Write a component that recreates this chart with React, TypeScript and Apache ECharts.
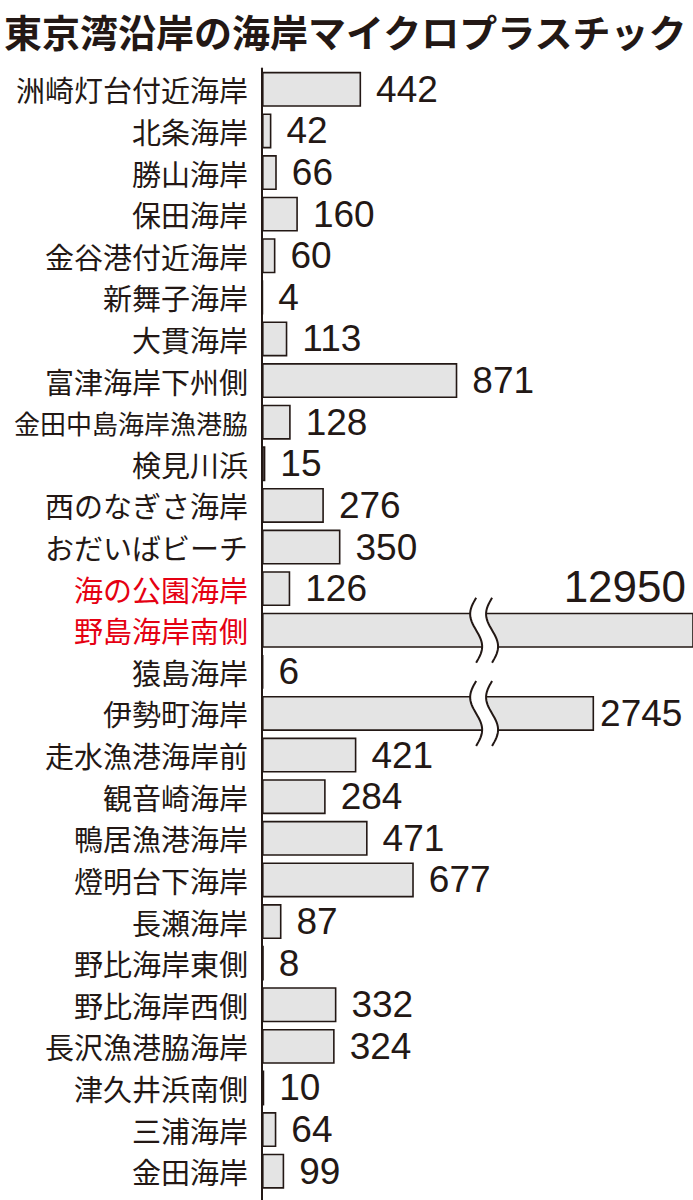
import React, { useEffect, useRef } from "react";
import * as echarts from "echarts";

const TITLE = "東京湾沿岸の海岸マイクロプラスチック";

const categories = [
  "洲崎灯台付近海岸", "北条海岸", "勝山海岸", "保田海岸", "金谷港付近海岸",
  "新舞子海岸", "大貫海岸", "富津海岸下州側", "金田中島海岸漁港脇", "検見川浜",
  "西のなぎさ海岸", "おだいばビーチ", "海の公園海岸", "野島海岸南側", "猿島海岸",
  "伊勢町海岸", "走水漁港海岸前", "観音崎海岸", "鴨居漁港海岸", "燈明台下海岸",
  "長瀬海岸", "野比海岸東側", "野比海岸西側", "長沢漁港脇海岸", "津久井浜南側",
  "三浦海岸", "金田海岸",
];

const values = [
  442, 42, 66, 160, 60,
  4, 113, 871, 128, 15,
  276, 350, 126, 12950, 6,
  2745, 421, 284, 471, 677,
  87, 8, 332, 324, 10,
  64, 99,
];

const highlighted = ["海の公園海岸", "野島海岸南側"];

// axis break (value units)
const breakStart = 955;
const breakEnd = 2290;
const breakGap = 71;
const axisMax = 3186;

const INK = "#231815";
const RED = "#e50012";
const BAR_FILL = "#e4e4e4";
const FONT = "'Noto Sans CJK JP', 'Noto Sans', sans-serif";
const NUM_FONT = "'Liberation Sans', Arial, sans-serif";

export default function App() {
  const ref = useRef<HTMLDivElement>(null);

  useEffect(() => {
    if (!ref.current) return;
    const chart = echarts.init(ref.current, undefined, { renderer: "svg" });
    const maxVal = Math.max(...values);

    const barData = values.map((v) => {
      if (v === maxVal) {
        return {
          value: v,
          label: {
            position: [424, -26],
            align: "right",
            verticalAlign: "middle",
            fontSize: 44,
          },
        };
      }
      if (v > breakEnd) {
        return { value: v, label: { distance: 6 } };
      }
      return v;
    });

    const brokenData = values
      .map((v, i) => [v, i])
      .filter((d) => d[0] > breakEnd);

    chart.setOption({
      animation: false,
      backgroundColor: "#ffffff",
      textStyle: { fontFamily: FONT },
      grid: {
        left: 262,
        right: 0,
        top: 68.5,
        height: 1123.5,
        containLabel: false,
        outerBoundsMode: "none",
      },
      xAxis: {
        type: "value",
        min: 0,
        max: axisMax,
        breaks: [{ start: breakStart, end: breakEnd, gap: breakGap }],
        breakArea: { show: false },
        axisLine: { show: false },
        axisTick: { show: false },
        axisLabel: { show: false },
        splitLine: { show: false },
      },
      yAxis: {
        type: "category",
        inverse: true,
        data: categories,
        axisLine: { show: true, lineStyle: { color: INK, width: 2 } },
        axisTick: { show: false },
        axisLabel: {
          margin: 14,
          fontFamily: FONT,
          formatter: (val: string) => {
            if (highlighted.includes(val)) return `{r|${val}}`;
            if (val.length > 8) return `{s|${val}}`;
            return `{n|${val}}`;
          },
          rich: {
            n: { fontSize: 29, color: INK, fontFamily: FONT },
            s: { fontSize: 26, color: INK, fontFamily: FONT },
            r: { fontSize: 29, color: RED, fontFamily: FONT },
          },
        },
      },
      graphic: [
        {
          type: "text",
          x: 4,
          y: 30,
          style: {
            text: TITLE,
            fontSize: 38,
            fontWeight: "bold",
            fontFamily: FONT,
            fill: INK,
            verticalAlign: "middle",
          },
        },
        {
          type: "line",
          shape: { x1: 262, y1: 1188, x2: 262, y2: 1200 },
          style: { stroke: INK, lineWidth: 2 },
        },
      ],
      series: [
        {
          type: "bar",
          data: barData,
          barCategoryGap: "16%",
          clip: true,
          itemStyle: { color: BAR_FILL, borderColor: INK, borderWidth: 1.6 },
          label: {
            show: true,
            position: "right",
            distance: 15,
            fontSize: 37,
            fontFamily: NUM_FONT,
            color: INK,
          },
          z: 2,
        },
        {
          type: "custom",
          data: brokenData,
          encode: { x: 0, y: 1 },
          z: 5,
          silent: true,
          renderItem: (params: any, api: any) => {
            const idx = api.value(1);
            const band = api.size([0, 1])[1];
            const yc = api.coord([0, idx])[1];
            const xa = api.coord([breakStart, idx])[0];
            const xb = api.coord([breakEnd, idx])[0];
            const h = band * 0.84 + 30;
            const top = yc - h / 2;
            const amp = 6;
            const N = 30;
            const curve = (xc: number) => {
              const pts: number[][] = [];
              for (let k = 0; k <= N; k++) {
                const t = k / N;
                pts.push([xc - amp * Math.sin(2 * Math.PI * t), top + t * h]);
              }
              return pts;
            };
            const left = curve(xa);
            const right = curve(xb);
            return {
              type: "group",
              children: [
                {
                  type: "polygon",
                  shape: { points: [...left, ...right.slice().reverse()] },
                  style: { fill: "#ffffff", stroke: "none" },
                },
                {
                  type: "polyline",
                  shape: { points: left },
                  style: { stroke: INK, lineWidth: 2, fill: "none" },
                },
                {
                  type: "polyline",
                  shape: { points: right },
                  style: { stroke: INK, lineWidth: 2, fill: "none" },
                },
              ],
            };
          },
        },
      ],
    });

    return () => chart.dispose();
  }, []);

  return (
    <div
      ref={ref}
      style={{ position: "absolute", left: 0, top: 0, width: 693, height: 1200, background: "#fff" }}
    />
  );
}
